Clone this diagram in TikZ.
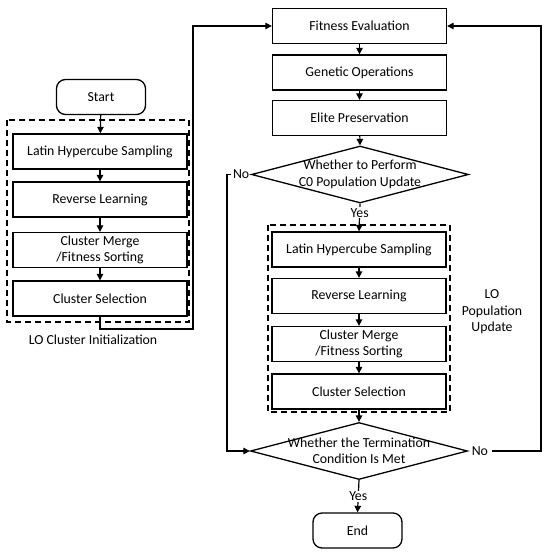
\documentclass[tikz,border=0pt]{standalone}
\usepackage{fontspec}
\setmainfont{Carlito}
\usetikzlibrary{arrows.meta,shapes.geometric}

\begin{document}
\begin{tikzpicture}[x=1pt,y=-1pt,>={Triangle[length=6.5pt,width=6.5pt]},line width=1.2pt,
  every node/.style={font=\fontsize{13.8}{16.5}\selectfont},
  proc/.style={draw,line width=1.3pt,minimum width=174pt,minimum height=35pt,align=center,inner sep=1pt},
  term/.style={draw,line width=1.3pt,rounded corners=9pt,minimum width=89pt,minimum height=35pt},
  decision/.style={draw,diamond,line width=1.3pt,inner sep=0pt,minimum width=217pt,minimum height=57pt},
  dashgroup/.style={draw,line width=1.1pt,dash pattern=on 6pt off 4pt}]
  \useasboundingbox (0,0) rectangle (550,556);
  % initialisation
  \node[term] (start) at (101,97) {Start};
  \node[proc] (lhs1) at (100,151.5) {Latin Hypercube Sampling};
  \node[proc] (rev1) at (100,199.5) {Reverse Learning};
  \node[proc] (cm1) at (100,250) {Cluster Merge\\/Fitness Sorting};
  \node[proc] (sel1) at (100,298.5) {Cluster Selection};
  \draw[dashgroup] (7,120) rectangle (189,322);
  \node (lbl1) at (93,340) {LO Cluster Initialization};
  % boucle principale
  \node[proc] (eval) at (359.5,26) {Fitness Evaluation};
  \node[proc] (genop) at (359.5,72.5) {Genetic Operations};
  \node[proc] (elite) at (359.5,118) {Elite Preservation};
  \node[decision,label={[align=center]center:{Whether to Perform\\C0 Population Update}}] (dec1) at (360,174.5) {};
  \node[proc] (lhs2) at (359,249.5) {Latin Hypercube Sampling};
  \node[proc] (rev2) at (359,296) {Reverse Learning};
  \node[proc] (cm2) at (359,344) {Cluster Merge\\/Fitness Sorting};
  \node[proc] (sel2) at (359,391.5) {Cluster Selection};
  \draw[dashgroup] (268,225) rectangle (450,412);
  \node[align=center] (lbl2) at (492,312) {LO\\Population\\Update};
  \node[decision,label={[align=center]center:{Whether the Termination\\Condition Is Met}}] (dec2) at (359,451) {};
  \node[term] (end) at (357.5,530.5) {End};
  \node[anchor=east,inner sep=1pt] (no1) at (dec1.west) {No};
  \node[anchor=west,inner sep=3pt] (no2) at (dec2.east) {No};
  % connecteurs
  \coordinate (jl) at (193,329);
  \coordinate (jn) at (227,451);
  \coordinate (jr) at (541,26);
  \draw[->] (start) -- (lhs1);
  \draw[->] (lhs1) -- (rev1);
  \draw[->] (rev1) -- (cm1);
  \draw[->] (cm1) -- (sel1);
  \draw[->] (sel1.south) |- (jl) |- (eval.west);
  \draw[->] (eval) -- (genop);
  \draw[->] (genop) -- (elite);
  \draw[->] (elite) -- (dec1.north);
  \draw[->] (dec1.south) -- node[pos=0.33,fill=white,inner sep=1pt] (yes1) {Yes} (lhs2.north);
  \draw[->] (lhs2) -- (rev2);
  \draw[->] (rev2) -- (cm2);
  \draw[->] (cm2) -- (sel2);
  \draw[->] (sel2.south) -- (dec2.north);
  \draw[->] (dec2.south) -- node[fill=white,inner sep=1pt] (yes2) {Yes} (end.north);
  \draw[->] (no1.west) -| (jn) -- (dec2.west);
  \draw[->] (no2.east) -| (jr) -- (eval.east);
\end{tikzpicture}
\end{document}
